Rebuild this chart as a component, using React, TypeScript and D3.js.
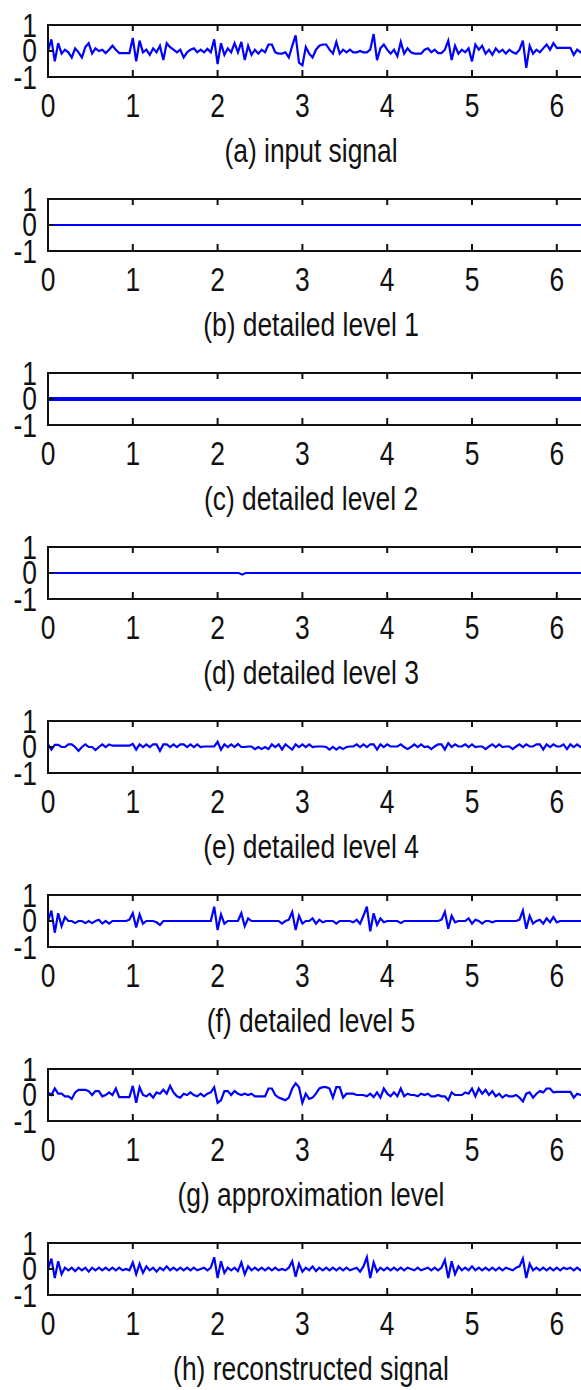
import React, { useEffect, useRef } from "react";
import * as d3 from "d3";

// sample spacing of the plotted signals (time units on the x axis)
const dt = 0.04;

const xTicks = [0, 1, 2, 3, 4, 5, 6, 7];
const yTicks = [-1, 0, 1];

const inputSignal = [
  0, 0.45, -0.4, 0.3, -0.1, 0.05, -0.05, -0.25, 0.1, -0.05,
  -0.25, 0.15, 0.3, -0.1, 0.1, 0, 0.05, -0.08, 0.05, 0.2,
  0.05, -0.08, -0.08, -0.08, -0.08, 0.5, -0.4, 0.4, -0.05, 0.05,
  -0.15, 0.1, -0.05, 0.2, -0.35, 0.3, 0.15, 0.05, -0.05, 0.05,
  -0.25, -0.05, 0.05, 0.1, -0.05, 0.05, -0.05, 0.08, -0.05, 0.45,
  -0.5, 0.3, -0.15, 0.1, -0.05, 0.3, -0.05, 0.35, -0.35, 0.2,
  -0.15, 0.05, -0.1, 0.05, -0.05, 0.25, 0.25, -0.05, -0.1, -0.1,
  -0.05, -0.25, 0.2, 0.6, -0.45, -0.55, 0.15, -0.1, -0.25, 0.05,
  0.2, 0.25, 0.25, 0.05, -0.1, 0.35, -0.1, 0.05, -0.05, 0.05,
  -0.05, -0.05, 0, -0.05, -0.05, 0.05, 0.65, -0.35, 0.1, 0.25,
  0.05, -0.1, 0.05, -0.2, 0.35, -0.1, 0.1, -0.05, -0.1, -0.1,
  -0.1, 0.05, 0.1, -0.05, 0.05, -0.08, -0.08, 0.05, 0.4, -0.35,
  0.2, -0.1, 0.05, -0.05, 0.1, -0.4, 0.25, 0.05, 0.2, -0.1,
  0.05, -0.15, 0.1, -0.05, 0.05, -0.1, 0.05, -0.05, -0.1, 0.05,
  0.4, -0.65, 0.2, -0.1, 0.05, -0.05, 0.1, 0.25, 0.05, 0.3,
  0.12, 0.12, 0.12, 0.12, 0.12, -0.15, 0.05, -0.05, 0.05, 0,
];

// levels 1-3 are flat, given as a few points only
const flatTimes = [0, 7];
const detail1 = [0, 0];
const detail2 = [0, 0];
const detail3Times = [0, 2.25, 2.29, 2.33, 7];
const detail3 = [0, 0, -0.06, 0, 0];

const detail4 = [
  0.1, -0.1, 0.08, 0.08, 0, 0, 0.1, 0.1, 0, -0.15,
  0, 0.1, 0, 0, -0.12, 0, 0.1, 0, 0.1, 0.05,
  0.05, 0.05, 0.05, 0.05, 0.05, 0.12, -0.1, 0.1, 0, 0.1,
  0, 0.1, 0.1, -0.15, 0.1, 0.1, 0, 0.1, 0, 0.1,
  0.1, 0, 0.1, 0, 0.1, 0, 0.02, 0.02, 0.02, 0.02,
  0.2, -0.1, 0.1, 0, 0.1, 0, 0.12, 0, 0, 0.02,
  0.02, -0.08, 0, -0.08, 0, -0.08, 0.1, 0, 0.1, -0.1,
  0.1, 0, -0.1, 0.1, 0, 0.1, 0, 0.1, 0, 0.02,
  0.02, 0.02, 0, -0.1, 0, -0.1, 0, -0.08, 0, 0.02,
  0.02, 0.1, 0, 0.1, 0, 0.1, 0.1, -0.1, 0.1, 0,
  0.1, 0.02, 0.02, 0.02, 0.1, 0, -0.08, 0, 0.1, 0,
  0.1, 0, 0.02, -0.08, 0.02, 0.1, 0.1, -0.1, 0.15, 0,
  0.1, 0.02, 0.02, 0.1, 0, 0.1, 0, 0.02, 0.02, -0.08,
  0.02, 0.1, 0, 0.1, 0, 0.02, 0.02, -0.08, 0.02, 0.1,
  0, 0.1, 0.02, 0.02, 0.1, 0.1, -0.1, 0.1, 0, 0.1,
  0.02, 0.02, 0.1, -0.08, 0.1, 0, 0.1, 0, 0.02, 0.02,
];

const detail5 = [
  0, 0.4, -0.45, 0.3, -0.2, 0.15, 0, 0, -0.08, 0,
  0, -0.08, 0, -0.08, 0, 0.05, -0.1, 0, -0.1, 0,
  0, 0, 0, 0, 0.05, 0.3, -0.25, 0.25, -0.1, 0,
  0, 0, -0.05, -0.15, 0, 0, 0, 0, 0, 0,
  0, 0, 0, 0, 0, 0, 0, 0, 0, 0.55,
  -0.35, 0.25, -0.1, 0, 0, 0, 0, 0.3, -0.2, 0.1,
  0, 0, 0, 0, 0, 0, 0, 0, 0, -0.1,
  0, 0.05, 0.35, -0.35, 0.2, -0.1, 0, 0, 0.1, -0.1,
  0.05, -0.05, 0, 0, 0, -0.1, 0, 0, 0, 0,
  -0.05, 0.05, -0.1, 0.2, 0.55, -0.4, 0.3, -0.15, 0.1, -0.05,
  0, 0, 0, 0, -0.08, 0, 0, 0, 0, 0,
  0, 0, 0, 0, 0, 0, 0.05, 0.35, -0.3, 0.2,
  -0.05, 0, 0, 0, 0.1, -0.1, 0.05, 0, -0.1, 0,
  0, -0.05, 0, 0, 0, 0, 0, 0, 0, 0.05,
  0.4, -0.3, 0.2, -0.1, 0, 0.05, -0.1, 0.1, -0.05, 0.15,
  -0.05, 0, 0, 0, 0, 0, 0, 0, 0, 0,
];

const approximation = [
  0.1, 0, 0.25, 0.05, 0.05, -0.05, -0.05, -0.15, 0.1, 0.2,
  0.2, 0.2, 0.15, 0, 0.15, 0.15, -0.05, 0, 0.1, 0,
  0.25, -0.08, -0.08, -0.08, -0.08, 0.35, -0.3, 0.3, 0, -0.05,
  0.05, -0.1, 0.1, 0.05, 0.2, 0.05, 0.35, 0.1, -0.05, -0.1,
  0.05, 0, 0.1, 0, -0.05, 0.05, -0.05, 0.05, 0.1, 0.3,
  -0.3, -0.2, 0.15, 0.15, 0, 0.15, 0.05, 0, 0.05, 0,
  0.05, -0.05, -0.05, -0.05, -0.05, 0.25, 0.25, 0, -0.1, -0.15,
  -0.2, -0.1, 0.25, 0.45, 0.3, -0.3, 0.05, -0.15, -0.1, 0.05,
  0.25, 0.3, 0.3, 0.25, -0.1, 0.3, 0.3, -0.1, 0.05, 0.05,
  0.05, 0, 0, 0, -0.05, 0.05, -0.08, 0.1, -0.1, 0.25,
  0.05, -0.05, 0.1, -0.05, 0.25, -0.05, 0.05, 0, 0, -0.05,
  0.05, 0, 0.05, -0.05, -0.05, 0, -0.05, -0.05, -0.2, 0.1,
  0, 0, 0, 0.1, 0.05, 0.25, -0.05, 0.25, 0.05, 0.2,
  0, 0.15, -0.05, 0.05, -0.1, 0, -0.05, -0.05, 0, -0.1,
  -0.25, 0.05, 0.1, -0.1, 0.05, 0.15, 0.1, 0.25, 0.25, 0.1,
  0.12, 0.12, 0.12, 0.12, 0.12, -0.1, 0.05, 0, 0, 0,
];

const reconstructed = [
  0, 0.4, -0.35, 0.3, -0.2, 0.05, -0.05, 0.05, -0.08, 0.05,
  -0.05, 0.05, -0.1, 0.05, -0.05, 0.05, -0.05, 0.05, -0.05, 0.05,
  -0.05, 0.05, -0.05, 0, -0.05, 0.25, -0.2, 0.2, -0.15, 0.1,
  -0.05, 0.05, -0.1, 0.05, -0.05, 0.1, -0.05, 0.05, -0.05, 0.05,
  -0.05, 0.05, -0.05, 0.05, -0.05, 0, 0.05, -0.05, 0.05, 0.45,
  -0.35, 0.3, -0.15, 0.05, -0.05, 0.05, -0.08, 0.25, -0.2, 0.1,
  -0.05, 0.05, -0.05, 0.05, -0.05, 0.05, -0.05, 0.05, -0.05, 0,
  -0.05, 0.05, 0.3, -0.3, 0.2, -0.1, 0.05, -0.05, 0.1, -0.08,
  0.05, -0.05, 0.05, -0.05, 0.05, -0.05, 0.05, -0.05, 0.05, -0.05,
  0, 0.05, -0.1, 0.1, 0.45, -0.35, 0.25, -0.1, 0.05, -0.05,
  0.05, -0.05, 0.05, -0.05, 0.05, -0.05, 0.05, 0, -0.05, 0.05,
  -0.05, 0, 0.05, -0.05, 0.05, -0.05, 0.05, 0.35, -0.35, 0.3,
  -0.2, 0.1, -0.05, 0.05, -0.05, 0.1, -0.05, 0.05, -0.05, 0.05,
  -0.05, 0.05, -0.05, 0.05, -0.05, 0.05, 0, -0.05, 0.05, 0.1,
  0.4, -0.35, 0.2, -0.05, 0.05, -0.05, 0.05, -0.05, 0.05, -0.05,
  0.05, -0.05, 0.05, 0, 0.05, -0.05, 0.05, -0.05, 0.05, 0,
];

const panels = [
  { caption: "(a) input signal", values: inputSignal, times: null, width: 2.2 },
  { caption: "(b) detailed level 1", values: detail1, times: flatTimes, width: 2 },
  { caption: "(c) detailed level 2", values: detail2, times: flatTimes, width: 4 },
  { caption: "(d) detailed level 3", values: detail3, times: detail3Times, width: 2 },
  { caption: "(e) detailed level 4", values: detail4, times: null, width: 2.2 },
  { caption: "(f) detailed level 5", values: detail5, times: null, width: 2.2 },
  { caption: "(g) approximation level", values: approximation, times: null, width: 2.2 },
  { caption: "(h) reconstructed signal", values: reconstructed, times: null, width: 2.2 },
];

const W = 581;
const H = 1390;
const left = 48;
const firstTop = 25;
const step = 174;
const boxH = 52;
const unit = 84.8;
const font = "'Liberation Sans', Arial, sans-serif";

function addText(g, text, x, y, anchor) {
  g.append("text")
    .attr("transform", `translate(${x},${y}) scale(0.8,1)`)
    .attr("text-anchor", anchor)
    .attr("font-family", font)
    .attr("font-size", 33)
    .attr("fill", "#111")
    .text(text);
}

export default function App() {
  const ref = useRef(null);

  useEffect(() => {
    const svg = d3.select(ref.current);
    svg.selectAll("*").remove();

    const x = d3.scaleLinear().domain([0, 7]).range([left, left + 7 * unit]);

    panels.forEach((p, k) => {
      const top = firstTop + k * step;
      const y = d3.scaleLinear().domain([-1, 1]).range([top + boxH, top]);
      const g = svg.append("g");

      const pts = p.values.map((v, i) => [p.times ? p.times[i] : i * dt, v]);
      const line = d3.line()
        .x((d) => x(d[0]))
        .y((d) => y(d[1]));

      g.append("path")
        .datum(pts)
        .attr("d", line)
        .attr("fill", "none")
        .attr("stroke", "#0000ff")
        .attr("stroke-width", p.width)
        .attr("stroke-linejoin", "miter");

      // axes box
      g.append("rect")
        .attr("x", x(0))
        .attr("y", top)
        .attr("width", x(7) - x(0))
        .attr("height", boxH)
        .attr("fill", "none")
        .attr("stroke", "#111")
        .attr("stroke-width", 2);

      // inward ticks, top and bottom
      xTicks.forEach((t) => {
        g.append("line")
          .attr("x1", x(t)).attr("x2", x(t))
          .attr("y1", top).attr("y2", top + 6)
          .attr("stroke", "#111").attr("stroke-width", 2);
        g.append("line")
          .attr("x1", x(t)).attr("x2", x(t))
          .attr("y1", top + boxH).attr("y2", top + boxH - 7)
          .attr("stroke", "#111").attr("stroke-width", 2);
        if (t < 7) addText(g, String(t), x(t), top + 92, "middle");
      });

      yTicks.forEach((t) => {
        g.append("line")
          .attr("x1", x(0)).attr("x2", x(0) + 6)
          .attr("y1", y(t)).attr("y2", y(t))
          .attr("stroke", "#111").attr("stroke-width", 2);
      });
      addText(g, "1", 37, top + 12, "end");
      addText(g, "0", 37, top + 37, "end");
      addText(g, "-1", 37, top + 64, "end");

      addText(g, p.caption, 311, top + 137, "middle");
    });
  }, []);

  return (
    <svg
      ref={ref}
      width={W}
      height={H}
      style={{ position: "absolute", left: 0, top: 0, background: "#fff" }}
    />
  );
}
